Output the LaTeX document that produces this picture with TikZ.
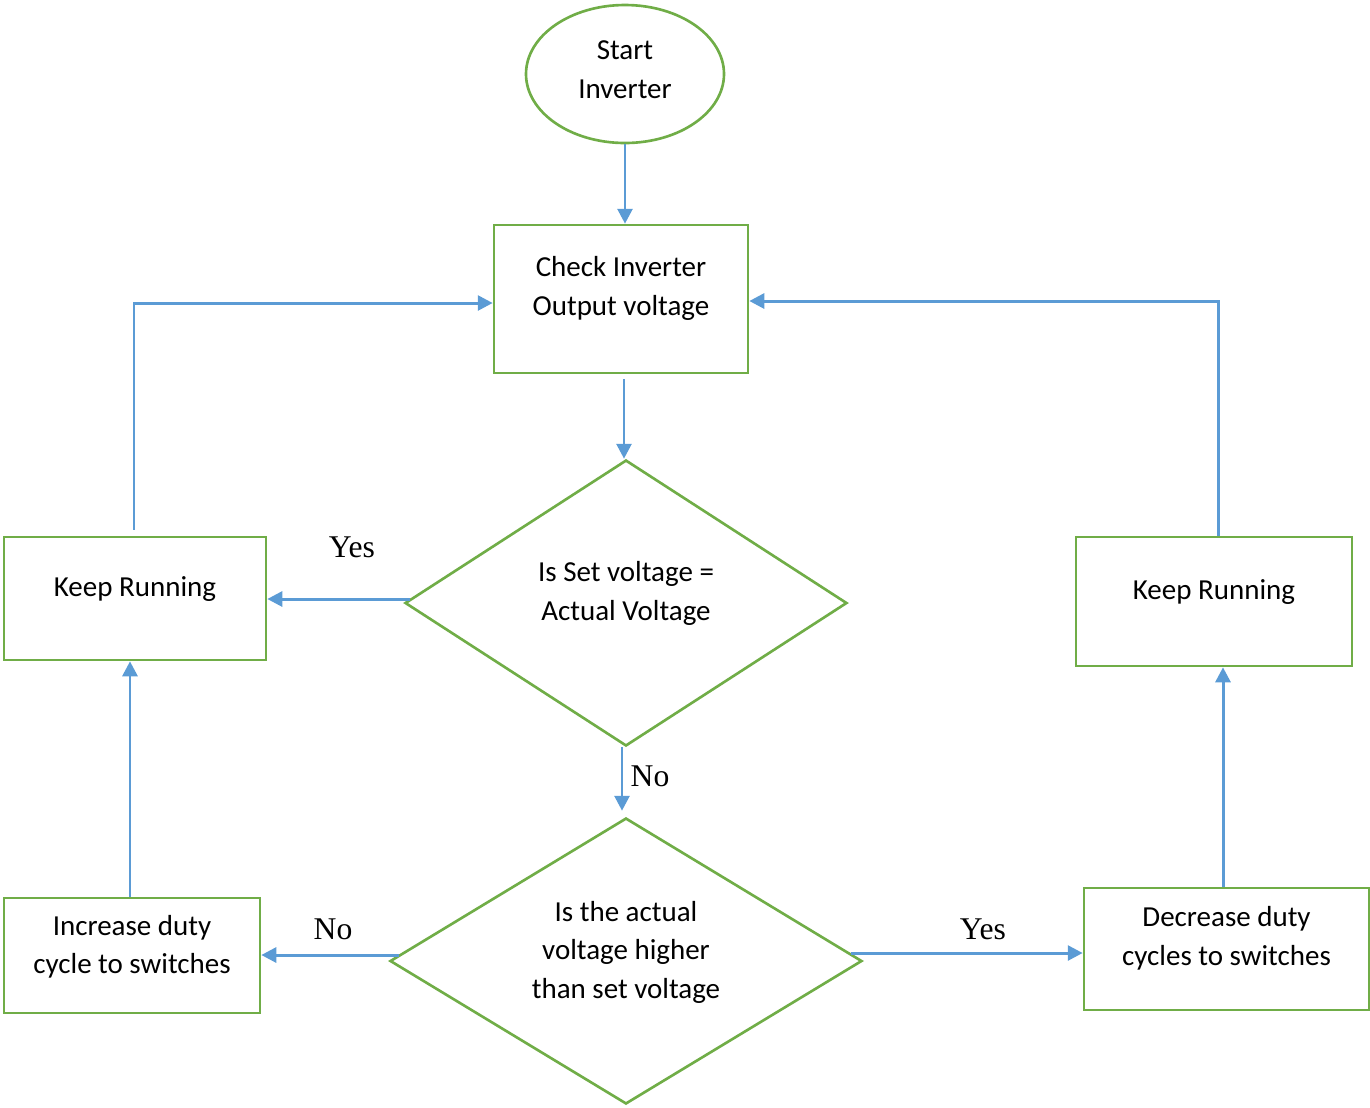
\documentclass[tikz,border=0pt]{standalone}
\usepackage{fontspec}
\setmainfont{Carlito}
\newfontfamily\labelfont{Liberation Serif}
\usetikzlibrary{shapes.geometric,arrows.meta,calc}

\definecolor{flowgreen}{HTML}{70AD47}
\definecolor{flowblue}{HTML}{5B9BD5}

% box text, lifted a little above the shape centre
\newcommand\fctext[2][5.5pt]{\raisebox{#1}[\height][\depth]{\begin{tabular}{@{}c@{}}#2\end{tabular}}}

\begin{document}
\begin{tikzpicture}[x=0.02cm,y=-0.02cm,
  every node/.style={font=\fontsize{16.5}{22.1}\selectfont, inner sep=0pt},
  shapebase/.style={draw=flowgreen, line width=1.5pt},
  procbox/.style={shapebase, rectangle},
  decision/.style={shapebase, diamond},
  terminal/.style={shapebase, ellipse},
  flow/.style={draw=flowblue, line width=1.7pt, -{Triangle[length=8.5pt,width=8.5pt]}},
  answer/.style={font=\labelfont\fontsize{18}{21}\selectfont}]

\useasboundingbox (0,0) rectangle (1370,1107);

% shapes
\node[terminal, minimum width={198*0.02cm}, minimum height={138*0.02cm}] (start) at (625,74)
  {\fctext[1.5pt]{Start\\Inverter}};
\node[procbox, minimum width={254*0.02cm}, minimum height={148*0.02cm}] (check) at (621,299)
  {\fctext[6pt]{Check Inverter\\Output voltage}};
\node[decision, aspect=1.55, minimum width={442*0.02cm}, minimum height={286*0.02cm}] (equal) at (626,603)
  {\fctext[5.5pt]{Is Set voltage =\\Actual Voltage}};
\node[procbox, minimum width={262*0.02cm}, minimum height={123*0.02cm}] (keepL) at (135,598.5)
  {\fctext[5.5pt]{Keep Running}};
\node[procbox, minimum width={276*0.02cm}, minimum height={129*0.02cm}] (keepR) at (1214,601.5)
  {\fctext[5.5pt]{Keep Running}};
\node[decision, aspect=1.65, minimum width={472*0.02cm}, minimum height={286*0.02cm}] (higher) at (626,961)
  {\fctext[5pt]{Is the actual\\voltage higher\\than set voltage}};
\node[procbox, minimum width={256*0.02cm}, minimum height={115*0.02cm}] (inc) at (132,955.5)
  {\fctext[5pt]{Increase duty\\cycle to switches}};
\node[procbox, minimum width={285*0.02cm}, minimum height={122*0.02cm}] (dec) at (1226.5,949)
  {\fctext[6pt]{Decrease duty\\cycles to switches}};

% answer labels
\node[answer] (yesL) at (352,547) {Yes};
\node[answer] (noD) at (650,776) {No};
\node[answer] (noL) at (333,929) {No};
\node[answer] (yesR) at (983,929) {Yes};

% points where the side connectors leave the decisions
\coordinate (equalOut) at ($(equal.west)+(6,-4)$);
\coordinate (higherL) at ($(higher.west)+(10,-6)$);
\coordinate (higherR) at ($(higher.east)+(-12,-8)$);
\coordinate (higherIn) at ($(higher.north)+(-4,-6)$);

% connectors
\draw[flow] (start.south) -- (start.south |- check.north);
\draw[flow] ([xshift={3*0.02cm},yshift={-5*0.02cm}]check.south) -- ([xshift={-2*0.02cm}]equal.north);
\draw[flow] (equalOut) -- (equalOut -| keepL.east);
\draw[flow] ([xshift={-4*0.02cm}]equal.south) -- (higherIn);
\draw[flow] (higherL) -- (higherL -| inc.east);
\draw[flow] (higherR) -- (higherR -| dec.west);
\draw[flow] ([xshift={-2*0.02cm}]inc.north) -- ([xshift={-2*0.02cm}]inc.north |- keepL.south);
\draw[flow] ([xshift={-3.5*0.02cm}]dec.north) -- ([xshift={-3.5*0.02cm}]dec.north |- keepR.south);
\draw[flow] ([xshift={-1*0.02cm},yshift={6*0.02cm}]keepL.north) |- ([yshift={-4*0.02cm}]check.west);
\draw[flow] ([xshift={4*0.02cm}]keepR.north) |- ([yshift={-2*0.02cm}]check.east);

\end{tikzpicture}
\end{document}
